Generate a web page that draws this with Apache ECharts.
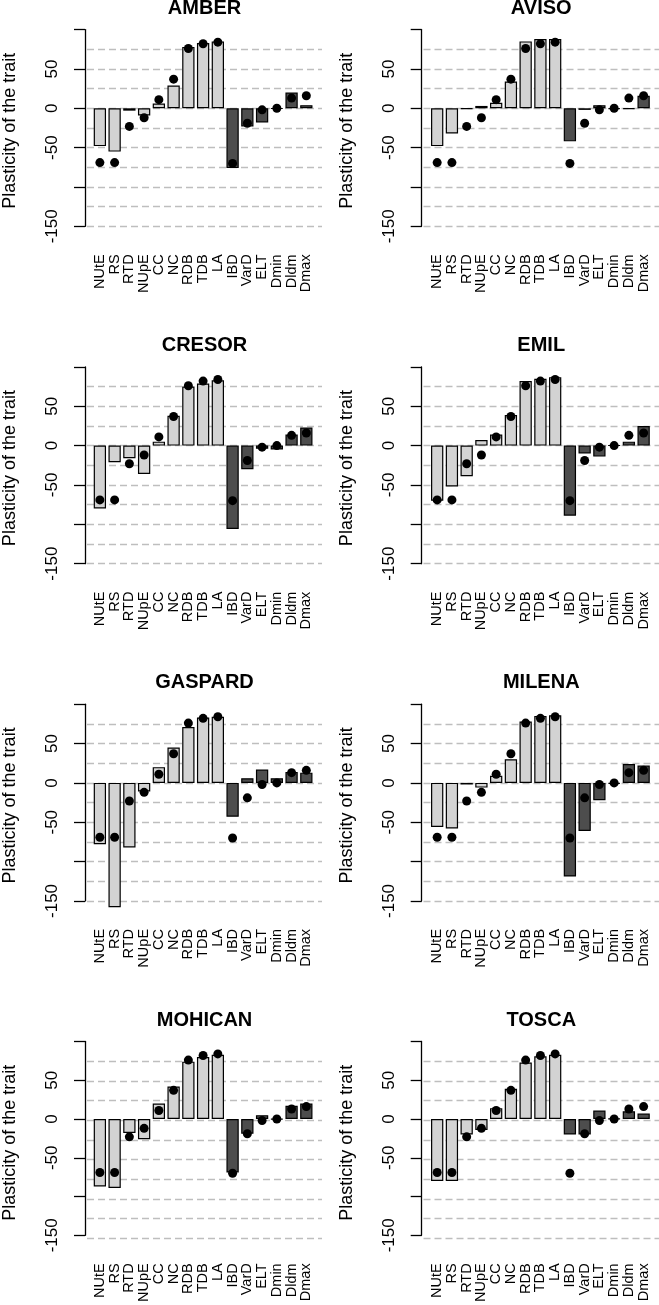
<!DOCTYPE html>
<html>
<head>
    <meta charset="utf-8">
    <title>Plasticity of the trait</title>
    <script src="https://cdn.jsdelivr.net/npm/echarts@6/dist/echarts.min.js"></script>
    <style>html, body { margin: 0; padding: 0; background: #fff; }</style>
</head>
<body>
    <div id="main" style="width: 659px;height:1305px;"></div>
    <script type="text/javascript">
        // traits on the x axis
        var categories = ['NUtE', 'RS', 'RTD', 'NUpE', 'CC', 'NC', 'RDB', 'TDB', 'LA',
                          'IBD', 'VarD', 'ELT', 'Dmin', 'Dldm', 'Dmax'];
        var panels = ['AMBER', 'AVISO', 'CRESOR', 'EMIL', 'GASPARD', 'MILENA', 'MOHICAN', 'TOSCA'];

        // mean plasticity (black dots, same in every panel)
        var meanPlasticity = [-69, -69, -23, -12, 11, 37, 76, 82, 84, -70, -19, -2, 0, 13, 16];

        // plasticity per variety
        var amber   = [-48, -55, -3, -9, 6, 29, 78, 83, 85, -76, -23, -18, -0.5, 20, 4];
        var aviso   = [-48, -32, -0.6, 3, 7, 34, 85, 88, 88, -42, -2, 4, -1, -1, 16];
        var cresor  = [-80, -21, -16, -36, 5, 38, 75, 79, 83, -106, -30, -4, -5, 14, 23];
        var emil    = [-70, -52, -39, 7, 14, 39, 82, 85, 87, -89, -10, -14, 0.3, 5, 25];
        var gaspard = [-78, -158, -82, -11, 20, 45, 71, 83, 84, -43, 6, 17, 6, 14, 13];
        var milena  = [-56, -58, -2, -6, 9, 30, 78, 85, 86, -119, -61, -22, -1, 24, 22];
        var mohican = [-87, -89, -18, -26, 20, 42, 74, 80, 83, -69, -19, 5, -0.5, 17, 20];
        var tosca   = [-80, -80, -20, -14, 14, 39, 73, 81, 83, -20, -20, 11, 0.5, 10, 7];
        var panelValues = [amber, aviso, cresor, emil, gaspard, milena, mohican, tosca];

        var yLabelsShown = [50, 0, -50, -150];

        var FONT = '"Liberation Sans", Arial, sans-serif';
        var myChart = echarts.init(document.getElementById('main'));

        var grids = [], xAxes = [], yAxes = [], series = [], graphics = [];
        var unit = 0.787; // px per plasticity unit

        panels.forEach(function (name, i) {
            var col = i % 2, row = Math.floor(i / 2);
            var zeroY = 108.3 + 337.3 * row;
            var axisX = [85, 421.7][col];
            var barLeft = [92.5, 429.8][col];
            var bgLeft = [87, 423.5][col];
            var bgRight = [322, 659][col];
            var g = i * 2;

            // grid holding bars + axis
            grids.push({ left: barLeft, top: zeroY - 100 * unit, width: 221.2, height: 250 * unit });
            // grid only for the dashed reference lines
            grids.push({ left: bgLeft, top: zeroY - 75 * unit, width: bgRight - bgLeft, height: 225 * unit });

            xAxes.push({
                gridIndex: g, type: 'category', data: categories,
                axisLine: { show: false }, axisTick: { show: false },
                axisLabel: { interval: 0, rotate: 90, margin: 28, fontSize: 14.5, color: '#000', fontFamily: FONT }
            });
            xAxes.push({ gridIndex: g + 1, type: 'value', show: false });

            yAxes.push({
                gridIndex: g, type: 'value', min: -150, max: 100, interval: 50,
                offset: barLeft - axisX,
                axisLine: { show: true, lineStyle: { color: '#000', width: 1.3 } },
                axisTick: { show: true, length: 11, lineStyle: { color: '#000', width: 1.3 } },
                axisLabel: {
                    rotate: 90, margin: 24, fontSize: 17, color: '#000', fontFamily: FONT,
                    formatter: function (v) { return yLabelsShown.indexOf(v) >= 0 ? String(v) : ''; }
                },
                splitLine: { show: false }
            });
            yAxes.push({
                gridIndex: g + 1, type: 'value', min: -150, max: 75, interval: 25,
                axisLine: { show: false }, axisTick: { show: false }, axisLabel: { show: false },
                splitLine: { show: true, lineStyle: { color: '#BEBEBE', type: [7, 4], width: 1.3 } }
            });

            series.push({
                type: 'bar', xAxisIndex: g, yAxisIndex: g, barWidth: 12.3, clip: false, z: 2,
                animation: false,
                data: panelValues[i].map(function (v, k) {
                    return { value: v, itemStyle: { color: k < 9 ? '#D3D3D3' : '#4D4D4D' } };
                }),
                itemStyle: { borderColor: '#000', borderWidth: 1.2 }
            });
            series.push({
                type: 'scatter', xAxisIndex: g, yAxisIndex: g, data: meanPlasticity,
                symbolSize: 9, clip: false, z: 3, animation: false,
                itemStyle: { color: '#000', opacity: 1 }
            });

            graphics.push({
                type: 'text', x: (bgLeft + bgRight) / 2, y: zeroY - 100,
                style: { text: name, font: 'bold 20px ' + FONT, fill: '#000',
                         textAlign: 'center', textVerticalAlign: 'middle', align: 'center', verticalAlign: 'middle' }
            });
            graphics.push({
                type: 'text', x: axisX - 75, y: zeroY + 22.5, rotation: Math.PI / 2,
                style: { text: 'Plasticity of the trait', font: '18px ' + FONT, fill: '#000',
                         textAlign: 'center', textVerticalAlign: 'middle', align: 'center', verticalAlign: 'middle' }
            });
        });

        var option = {
            animation: false,
            backgroundColor: '#fff',
            grid: grids,
            xAxis: xAxes,
            yAxis: yAxes,
            series: series,
            graphic: graphics
        };

        myChart.setOption(option);
    </script>
</body>
</html>
